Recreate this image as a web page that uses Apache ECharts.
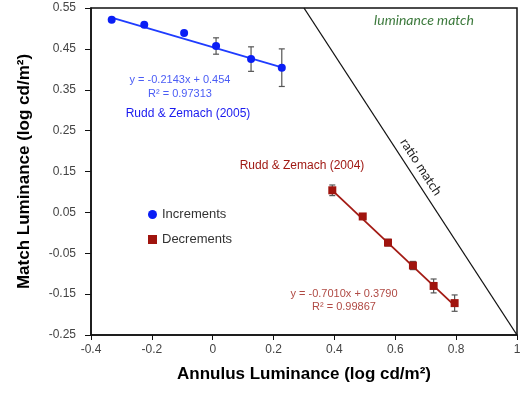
<!DOCTYPE html>
<html>
<head>
<meta charset="utf-8">
<script src="https://cdn.jsdelivr.net/npm/echarts@6/dist/echarts.min.js"></script>
<style>html,body{margin:0;padding:0;background:#fff}#c{width:527px;height:396px}</style>
</head>
<body>
<div id="c"></div>
<script>
// Data
const incX = [-0.332, -0.225, -0.094, 0.011, 0.126, 0.227];
const incY = [0.521, 0.509, 0.489, 0.457, 0.425, 0.404];
const incErr = [0.003, 0.003, 0.004, 0.020, 0.030, 0.046];
const decX = [0.393, 0.493, 0.576, 0.658, 0.726, 0.795];
const decY = [0.104, 0.040, -0.024, -0.080, -0.130, -0.172];
const decErr = [0.013, 0.005, 0.008, 0.010, 0.017, 0.020];
const incTrend = [[-0.335, 0.527], [0.227, 0.405]];
const decTrend = [[0.393, 0.104], [0.795, -0.178]];
const ratioLine = [[0.3, 0.55], [1.0, -0.25]];
const xTicks = {min: -0.4, max: 1, interval: 0.2};
const yTicks = {min: -0.25, max: 0.55, interval: 0.1};

const zip = (a, b) => a.map((v, i) => [v, b[i]]);
const zip3 = (a, b, c) => a.map((v, i) => [v, b[i], c[i]]);

function errRender(color) {
  return function (params, api) {
    const x = api.value(0), y = api.value(1), e = api.value(2);
    const t = api.coord([x, y + e]);
    const b = api.coord([x, y - e]);
    const w = 3;
    const st = {stroke: color, lineWidth: 1.2};
    return {type: 'group', children: [
      {type: 'line', shape: {x1: t[0], y1: t[1], x2: b[0], y2: b[1]}, style: st},
      {type: 'line', shape: {x1: t[0] - w, y1: t[1], x2: t[0] + w, y2: t[1]}, style: st},
      {type: 'line', shape: {x1: b[0] - w, y1: b[1], x2: b[0] + w, y2: b[1]}, style: st}
    ]};
  };
}

const chart = echarts.init(document.getElementById('c'), null, {renderer: 'canvas'});
const labelFont = 'Liberation Sans';
chart.setOption({
  animation: false,
  backgroundColor: '#fff',
  grid: {left: 91, right: 10, top: 8, bottom: 61, show: true, borderColor: '#111', borderWidth: 1.5, backgroundColor: 'transparent'},
  xAxis: {
    type: 'value', min: xTicks.min, max: xTicks.max, interval: xTicks.interval,
    name: 'Annulus Luminance (log cd/m²)', nameLocation: 'middle', nameGap: 31,
    nameTextStyle: {fontFamily: labelFont, fontWeight: 'bold', fontSize: 17, color: '#000'},
    axisLine: {onZero: false, lineStyle: {color: '#111', width: 1.5}},
    axisTick: {show: true, inside: false, length: 5, lineStyle: {color: '#111'}},
    splitLine: {show: false},
    axisLabel: {fontFamily: labelFont, fontSize: 12, color: '#444', margin: 9,
      formatter: v => (Math.abs(v) < 1e-9 ? '0' : String(parseFloat(v.toFixed(2))))}
  },
  yAxis: {
    type: 'value', min: yTicks.min, max: yTicks.max, interval: yTicks.interval,
    name: 'Match Luminance (log cd/m²)', nameLocation: 'middle', nameGap: 58,
    nameTextStyle: {fontFamily: labelFont, fontWeight: 'bold', fontSize: 17, color: '#000'},
    axisLine: {onZero: false, lineStyle: {color: '#111', width: 1.5}},
    axisTick: {show: true, inside: false, length: 6, lineStyle: {color: '#111'}},
    splitLine: {show: false},
    axisLabel: {fontFamily: labelFont, fontSize: 12, color: '#444', margin: 15,
      formatter: v => v.toFixed(2)}
  },
  legend: {
    orient: 'vertical', left: 143, top: 203, itemWidth: 9, itemHeight: 9, itemGap: 12,
    textStyle: {fontFamily: labelFont, fontSize: 13, color: '#333'},
    data: [{name: 'Increments', icon: 'circle'}, {name: 'Decrements', icon: 'rect'}]
  },
  series: [
    {type: 'line', data: ratioLine, symbol: 'none', lineStyle: {color: '#111', width: 1.3}, silent: true},
    {type: 'line', data: incTrend, symbol: 'none', lineStyle: {color: '#1f3cff', width: 1.8}},
    {type: 'line', data: decTrend, symbol: 'none', lineStyle: {color: '#a31a14', width: 1.8}},
    {type: 'custom', renderItem: errRender('#555'), data: zip3(incX, incY, incErr), z: 3},
    {type: 'custom', renderItem: errRender('#555'), data: zip3(decX, decY, decErr), z: 3},
    {name: 'Increments', type: 'scatter', symbol: 'circle', symbolSize: 8, data: zip(incX, incY),
      itemStyle: {color: '#0a1ef5', opacity: 1}, z: 4},
    {name: 'Decrements', type: 'scatter', symbol: 'rect', symbolSize: 8, data: zip(decX, decY),
      itemStyle: {color: '#a0140e', opacity: 1}, z: 4}
  ],
  graphic: [
    {type: 'text', x: 180, y: 80, style: {text: 'y = -0.2143x + 0.454', font: '11px "Liberation Sans"', fill: '#4a5cf5', align: 'center', verticalAlign: 'middle'}},
    {type: 'text', x: 180, y: 94, style: {text: 'R² = 0.97313', font: '11px "Liberation Sans"', fill: '#4a5cf5', align: 'center', verticalAlign: 'middle'}},
    {type: 'text', x: 188, y: 114, style: {text: 'Rudd & Zemach (2005)', font: '12px "Liberation Sans"', fill: '#1a1aef', align: 'center', verticalAlign: 'middle'}},
    {type: 'text', x: 302, y: 166, style: {text: 'Rudd & Zemach (2004)', font: '12px "Liberation Sans"', fill: '#a01a14', align: 'center', verticalAlign: 'middle'}},
    {type: 'text', x: 344, y: 294, style: {text: 'y = -0.7010x + 0.3790', font: '11px "Liberation Sans"', fill: '#b04a44', align: 'center', verticalAlign: 'middle'}},
    {type: 'text', x: 344, y: 307, style: {text: 'R² = 0.99867', font: '11px "Liberation Sans"', fill: '#b04a44', align: 'center', verticalAlign: 'middle'}},
    {type: 'text', x: 424, y: 20, style: {text: 'luminance match', font: 'italic 14px Lato', fill: '#3d7a3d', align: 'center', verticalAlign: 'middle'}},
    {type: 'text', x: 421, y: 167, rotation: -0.993, style: {text: 'ratio match', font: '13px Lato', fill: '#222', align: 'center', verticalAlign: 'middle'}}
  ]
});
</script>
</body>
</html>
